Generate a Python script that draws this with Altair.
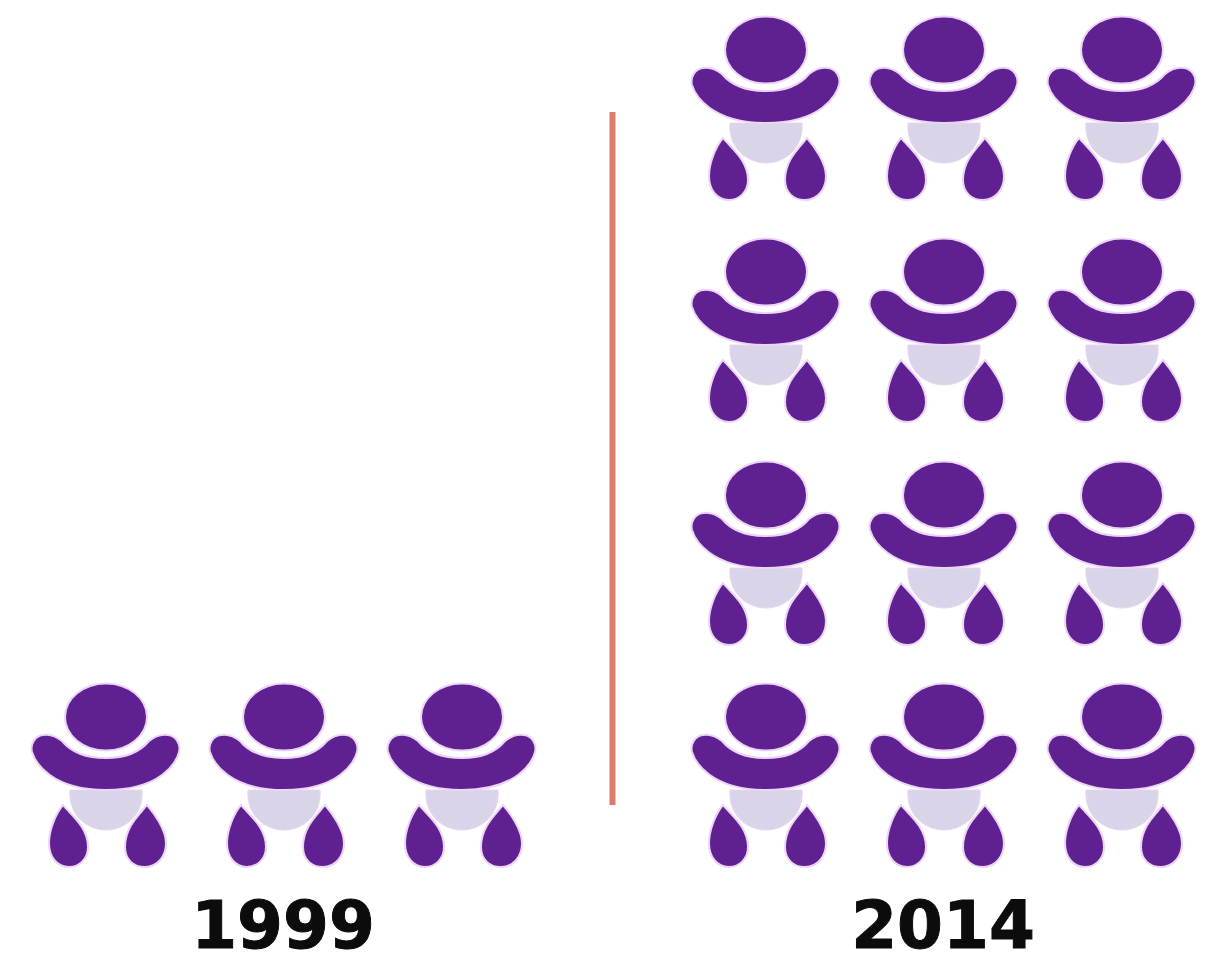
import altair as alt
import pandas as pd

# Icon columns and rows (page pixels)
years = ["1999", "2014"]
year_centers = [283, 943]
cols_1999 = [105, 283, 461]
rows_1999 = [775]
cols_2014 = [765, 943, 1121]
rows_2014 = [108, 330, 553, 775]
divider_x = [612.5]
divider_top = [112]
divider_bottom = [805]
label_y = [948]

PURPLE = "#5f2192"
HALO = "#ecd4f5"
DIAPER = "#d9d4e7"
RED = "#de7a68"

HEAD = "M -0.40 -0.58 A 0.41 0.335 0 1 1 0.42 -0.58 A 0.41 0.335 0 1 1 -0.40 -0.58 Z"
ARMS = ("M -0.43 -0.34 C -0.33 -0.22 -0.16 -0.17 0.01 -0.17 C 0.18 -0.17 0.34 -0.22 0.44 -0.34 "
        "C 0.50 -0.39 0.57 -0.41 0.63 -0.40 C 0.71 -0.39 0.76 -0.31 0.74 -0.23 "
        "C 0.72 -0.13 0.56 0.15 0.01 0.15 C -0.54 0.15 -0.70 -0.13 -0.73 -0.23 "
        "C -0.75 -0.31 -0.70 -0.39 -0.62 -0.40 C -0.56 -0.41 -0.49 -0.39 -0.43 -0.34 Z")
DIAPER_SHAPE = ("M -0.35 0.15 L 0.37 0.15 C 0.39 0.40 0.2 0.55 0.01 0.55 "
                "C -0.18 0.55 -0.37 0.40 -0.35 0.15 Z")
FOOT_L = ("M -0.42 0.30 C -0.34 0.40 -0.17 0.52 -0.17 0.72 "
          "C -0.17 0.85 -0.27 0.92 -0.36 0.92 C -0.48 0.92 -0.56 0.82 -0.56 0.68 "
          "C -0.56 0.55 -0.49 0.38 -0.42 0.30 Z")
FOOT_R = ("M 0.42 0.30 C 0.49 0.38 0.61 0.55 0.61 0.68 C 0.61 0.82 0.52 0.92 0.40 0.92 "
          "C 0.29 0.92 0.20 0.85 0.20 0.72 C 0.20 0.52 0.34 0.40 0.42 0.30 Z")
PURPLE_SHAPE = " ".join([HEAD, ARMS, FOOT_L, FOOT_R])

babies = pd.DataFrame(
    [{"x": c, "y": r} for r in rows_1999 for c in cols_1999]
    + [{"x": c, "y": r} for r in rows_2014 for c in cols_2014]
)
labels = pd.DataFrame({"year": years, "x": year_centers, "y": label_y * 2})
divider = pd.DataFrame({"x": divider_x, "y": divider_top, "y2": divider_bottom})

W, H = 1214, 946
xs = alt.Scale(domain=[8, 8 + W], range=[0, W], nice=False, zero=False)
ys = alt.Scale(domain=[8, 8 + H], range=[0, H], nice=False, zero=False)
X = alt.X("x:Q", scale=xs, axis=None)
Y = alt.Y("y:Q", scale=ys, axis=None)
ICON_SIZE = 40000

diaper_layer = alt.Chart(babies).mark_point(
    shape=DIAPER_SHAPE, size=ICON_SIZE, filled=True, fill=DIAPER, stroke=HALO,
    strokeWidth=1, opacity=1
).encode(x=X, y=Y)
purple_layer = alt.Chart(babies).mark_point(
    shape=PURPLE_SHAPE, size=ICON_SIZE, filled=True, fill=PURPLE, stroke=HALO,
    strokeWidth=2, opacity=1
).encode(x=X, y=Y)
rule_layer = alt.Chart(divider).mark_rule(color=RED, strokeWidth=6).encode(
    x=X, y=Y, y2="y2:Q"
)
text_layer = alt.Chart(labels).mark_text(
    font="DejaVu Sans", fontWeight="bold", fontSize=66, color="#0c0c0c",
    baseline="alphabetic", align="center", stroke="#0c0c0c", strokeWidth=1
).encode(x=X, y=Y, text="year:N")

chart = (
    alt.layer(diaper_layer, purple_layer, rule_layer, text_layer)
    .properties(width=W, height=H, padding=0, autosize=alt.AutoSizeParams(type="none"), background="white")
    .configure_view(stroke=None)
)
chart.save("out.html", embed_options={"renderer": "svg", "actions": False})
